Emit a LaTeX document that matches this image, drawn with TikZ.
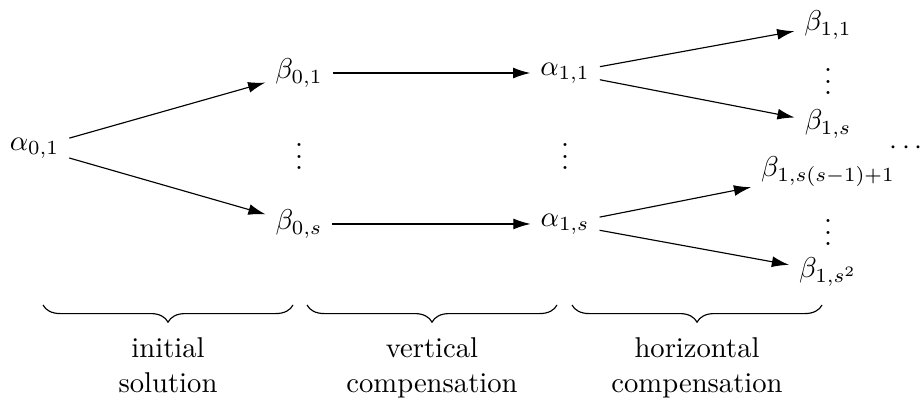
\documentclass[tikz,border=0pt]{standalone}
\usetikzlibrary{arrows.meta,decorations.pathreplacing}
\begin{document}
\begin{tikzpicture}
	[to/.style={-{Latex[length=6pt,width=3.8pt]}},
	brc/.style={decorate,decoration={brace,mirror,amplitude=6pt}},
	lbl/.style={midway,below=8pt,align=center}]
	\useasboundingbox (0,0) rectangle (11.337,-4.969);
	\node (a01) at (0.423,-1.816) {$\alpha_{0,1}$};
	\node (b01) at (3.669,-0.896) {$\beta_{0,1}$};
	\node (vd0) at (3.669,-1.816) {$\vdots$};
	\node (b0s) at (3.669,-2.748) {$\beta_{0,s}$};
	\node (a11) at (6.933,-0.896) {$\alpha_{1,1}$};
	\node (vd1) at (6.933,-1.816) {$\vdots$};
	\node (a1s) at (6.933,-2.748) {$\alpha_{1,s}$};
	\node (b11) at (10.16,-0.307) {$\beta_{1,1}$};
	\node (vd2) at (10.16,-0.896) {$\vdots$};
	\node (b1s) at (10.16,-1.521) {$\beta_{1,s}$};
	\node (b1t) at (10.16,-2.110) {$\beta_{1,s(s-1)+1}$};
	\node (vd3) at (10.16,-2.748) {$\vdots$};
	\node (b1q) at (10.16,-3.337) {$\beta_{1,s^2}$};
	\node (cd) at (11.117,-1.816) {$\cdots$};
	\draw[to] (a01) -- (b01);
	\draw[to] (a01) -- (b0s);
	\draw[to] (b01) -- (a11);
	\draw[to] (b0s) -- (a1s);
	\draw[to] (a11) -- (b11);
	\draw[to] (a11) -- (b1s);
	\draw[to] (a1s) -- (b1t);
	\draw[to] (a1s) -- (b1q);
	\coordinate (l1) at (0.528,-3.742);
	\coordinate (r1) at (3.595,-3.742);
	\coordinate (l2) at (3.767,-3.742);
	\coordinate (r2) at (6.834,-3.742);
	\coordinate (l3) at (7.018,-3.742);
	\coordinate (r3) at (10.086,-3.742);
	\draw[brc] (l1) -- (r1) node[lbl] (t1) {initial\\solution};
	\draw[brc] (l2) -- (r2) node[lbl] (t2) {vertical\\compensation};
	\draw[brc] (l3) -- (r3) node[lbl] (t3) {horizontal\\compensation};
\end{tikzpicture}
\end{document}
